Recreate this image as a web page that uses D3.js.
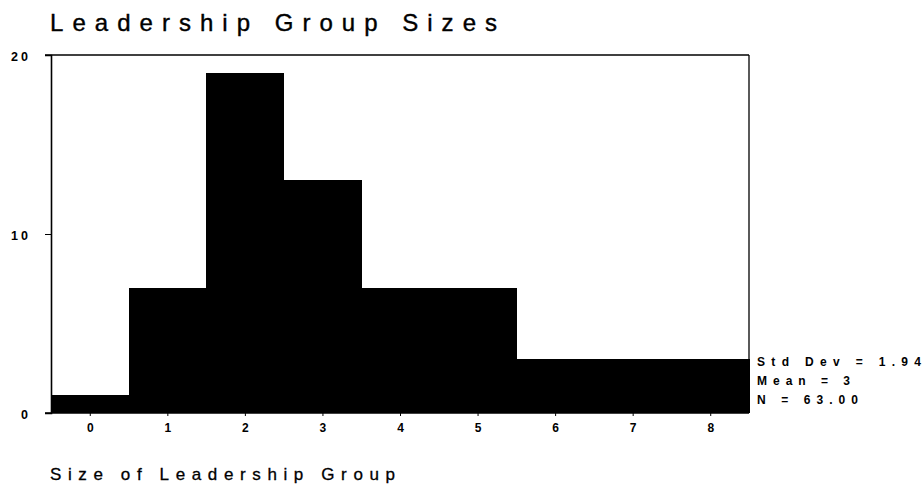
<!DOCTYPE html>
<html><head><meta charset="utf-8">
<script src="https://cdn.jsdelivr.net/npm/d3@7"></script>
<style>body{margin:0;background:#fff;} svg{display:block;font-family:"Liberation Sans",Arial,sans-serif;}</style>
</head><body>
<script>
const categories = [0,1,2,3,4,5,6,7,8];
const counts = [1,7,19,13,7,7,3,3,3];
const yTicks = [0,10,20];
const title = "Leadership Group Sizes";
const xTitle = "Size of Leadership Group";
const stats = ["Std  Dev = 1.94","Mean = 3","N = 63.00"];

const W=923,H=489;
const L=51,R=749,T=55,B=413;
const svg=d3.select("body").append("svg").attr("width",W).attr("height",H);
const x=d3.scaleLinear().domain([-0.5,8.5]).range([L,R]);
const y=d3.scaleLinear().domain([0,20]).range([B,T]);

svg.selectAll("rect.bar").data(categories).join("rect").attr("class","bar")
  .attr("x",d=>x(d-0.5)).attr("width",d=>x(d+0.5)-x(d-0.5)+0.6)
  .attr("y",(d,i)=>y(counts[i])).attr("height",(d,i)=>y(0)-y(counts[i]))
  .attr("fill","#000").attr("shape-rendering","crispEdges");

// frame
svg.append("line").attr("x1",L-6).attr("x2",R).attr("y1",y(20)).attr("y2",y(20)).attr("stroke","#000").attr("stroke-width",1.6);
svg.append("line").attr("x1",R).attr("x2",R).attr("y1",y(20)).attr("y2",B).attr("stroke","#000").attr("stroke-width",1.3);

// y axis
const ya=svg.append("g").attr("transform",`translate(${L},0)`)
  .call(d3.axisLeft(y).tickValues(yTicks).tickSize(6).tickPadding(14).tickFormat(d3.format("d")));
ya.select(".domain").attr("stroke-width",1.6);
ya.selectAll("text").attr("font-size",12.5).attr("font-weight","bold").attr("letter-spacing",3).attr("fill","#000").attr("dy","0.4em");

// x axis
const xa=svg.append("g").attr("transform",`translate(0,${B})`)
  .call(d3.axisBottom(x).tickValues(categories).tickSize(3).tickPadding(7).tickFormat(d3.format("d")));
xa.select(".domain").attr("d",`M${L-6},0H${R}`).attr("stroke-width",1.6);
xa.selectAll("text").attr("font-size",12).attr("font-weight","bold").attr("fill","#000");

// titles
svg.append("text").attr("x",50).attr("y",31).attr("font-size",24).attr("fill","#000")
  .attr("stroke","#000").attr("stroke-width",0.4)
  .attr("textLength",447).attr("lengthAdjust","spacing").text(title);
svg.append("text").attr("x",50).attr("y",480).attr("font-size",17).attr("fill","#000")
  .attr("stroke","#000").attr("stroke-width",0.3)
  .attr("textLength",345).attr("lengthAdjust","spacing").text(xTitle);

// stats
const statLen=[164,93,101];
svg.selectAll("text.stat").data(stats).join("text").attr("class","stat")
  .attr("x",757).attr("y",(d,i)=>366+i*19).attr("font-size",12).attr("font-weight","bold").attr("fill","#000")
  .attr("textLength",(d,i)=>statLen[i]).attr("lengthAdjust","spacing").text(d=>d);
</script>
</body></html>
